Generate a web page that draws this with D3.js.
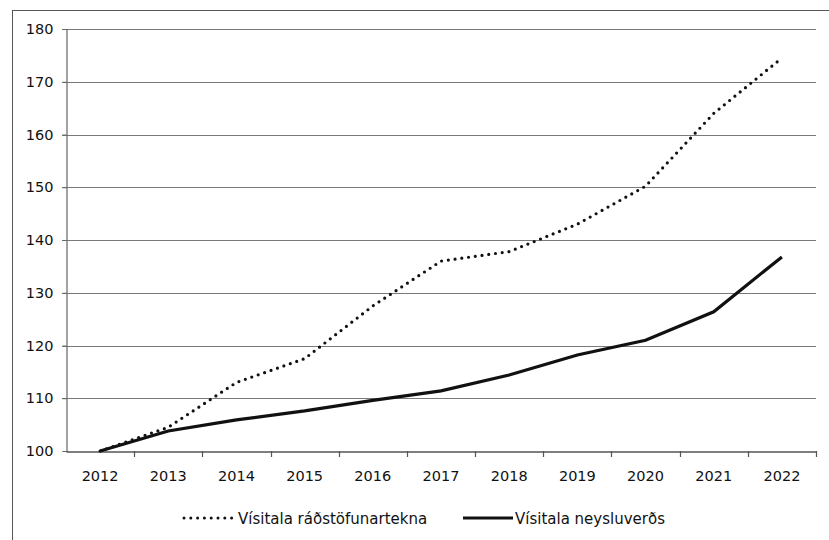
<!DOCTYPE html>
<html><head><meta charset="utf-8">
<script src="https://cdn.jsdelivr.net/npm/d3@7"></script>
<style>html,body{margin:0;padding:0;background:#fff}svg{display:block}</style>
</head><body>
<svg id="chart" width="829" height="540"></svg>
<script>
const years = ["2012","2013","2014","2015","2016","2017","2018","2019","2020","2021","2022"];
const incomeIndex = [100, 104.5, 113, 117.5, 127.5, 136, 137.8, 143, 150.2, 164, 174.5];
const cpiIndex = [100, 103.8, 105.9, 107.6, 109.6, 111.4, 114.4, 118.2, 121, 126.4, 136.8];
const yTicks = [100,110,120,130,140,150,160,170,180];
const seriesNames = ["Vísitala ráðstöfunartekna", "Vísitala neysluverðs"];

const svg = d3.select("#chart");
const font = "DejaVu Sans, sans-serif";
const L = 66, R = 816, T = 29, B = 451;
const x = d3.scaleBand().domain(years).range([L, R]).padding(0);
const y = d3.scaleLinear().domain([100, 180]).range([B, T]);
const cx = d => x(d) + x.bandwidth() / 2;

// outer border
svg.append("rect").attr("x", 12.5).attr("y", 10.5).attr("width", 840).attr("height", 560)
  .attr("fill", "none").attr("stroke", "#555").attr("stroke-width", 1);

// gridlines
svg.append("g").selectAll("line").data(yTicks.filter(t => t > 100)).join("line")
  .attr("x1", L - 4).attr("x2", R).attr("y1", d => Math.round(y(d)) + 0.5).attr("y2", d => Math.round(y(d)) + 0.5)
  .attr("stroke", "#7a7a7a").attr("stroke-width", 1.2);

// y axis
const yAxis = svg.append("g").attr("transform", `translate(${L + 0.5},0)`)
  .call(d3.axisLeft(y).tickValues(yTicks).tickSize(4).tickPadding(9).tickFormat(d3.format("d")));
yAxis.select(".domain").attr("stroke", "#666").attr("stroke-width", 1.2);
yAxis.selectAll(".tick line").attr("stroke", "#666");
yAxis.selectAll("text").attr("font-family", font).attr("font-size", 14.5).attr("fill", "#111");

// x axis
const xAxis = svg.append("g").attr("transform", `translate(0,${B + 0.5})`)
  .call(d3.axisBottom(x).tickSize(0).tickPadding(19));
xAxis.select(".domain").attr("stroke", "#555").attr("stroke-width", 1.4);
xAxis.selectAll("text").attr("font-family", font).attr("font-size", 14.5).attr("fill", "#111");
// boundary tick marks
const bounds = years.map(d => x(d)).concat([R]);
svg.append("g").selectAll("line").data(bounds.slice(1)).join("line")
  .attr("x1", d => Math.round(d) + 0.5).attr("x2", d => Math.round(d) + 0.5)
  .attr("y1", B).attr("y2", B + 6).attr("stroke", "#555").attr("stroke-width", 1.2);

// lines
const line = d3.line().x(d => cx(d[0])).y(d => y(d[1]));
svg.append("path").datum(years.map((d, i) => [d, incomeIndex[i]]))
  .attr("d", line).attr("fill", "none").attr("stroke", "#111").attr("stroke-width", 3.2)
  .attr("stroke-dasharray", "0,6.8").attr("stroke-linecap", "round");
svg.append("path").datum(years.map((d, i) => [d, cpiIndex[i]]))
  .attr("d", line).attr("fill", "none").attr("stroke", "#111").attr("stroke-width", 3.2);

// legend
const ly = 518;
svg.append("line").attr("x1", 184).attr("x2", 233).attr("y1", ly).attr("y2", ly)
  .attr("stroke", "#111").attr("stroke-width", 3).attr("stroke-dasharray", "0,6.8").attr("stroke-linecap", "round");
svg.append("text").attr("x", 238).attr("y", ly + 6).text(seriesNames[0])
  .attr("font-family", font).attr("font-size", 15).attr("fill", "#111");
svg.append("line").attr("x1", 463).attr("x2", 513).attr("y1", ly).attr("y2", ly)
  .attr("stroke", "#111").attr("stroke-width", 3);
svg.append("text").attr("x", 515).attr("y", ly + 6).text(seriesNames[1])
  .attr("font-family", font).attr("font-size", 15).attr("fill", "#111");
</script>
</body></html>
